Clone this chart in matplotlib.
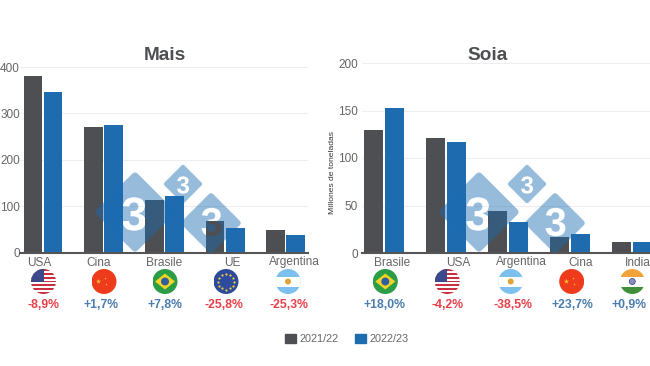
import numpy as np
import matplotlib
matplotlib.use("Agg")
import matplotlib.pyplot as plt
from matplotlib.font_manager import FontProperties
from matplotlib.patches import Circle, PathPatch, Patch, Polygon, Rectangle
from matplotlib.path import Path
from matplotlib.textpath import TextPath

plt.rcParams["font.family"] = ["Liberation Sans", "DejaVu Sans"]

# Datos (millones de toneladas)
paises_mais = ["USA", "Cina", "Brasile", "UE", "Argentina"]
mais_2122 = [380, 271, 114, 69, 48]
mais_2223 = [347, 276, 122, 52, 38]
var_mais = ["-8,9%", "+1,7%", "+7,8%", "-25,8%", "-25,3%"]

paises_soia = ["Brasile", "USA", "Argentina", "Cina", "India"]
soia_2122 = [129.5, 121, 44, 16.5, 12]
soia_2223 = [152.5, 116.5, 33, 20, 12]
var_soia = ["+18,0%", "-4,2%", "-38,5%", "+23,7%", "+0,9%"]

temporadas = ["2021/22", "2022/23"]

OSCURO = "#4d4f53"
AZUL = "#1f6bb0"
GRIS = "#666666"
ROJO = "#e8404a"
AZUL_TXT = "#4a7db0"
W, H = 650, 366


def caja(x0, x1, y0, y1):
    # Convierte pixeles de la imagen a coordenadas de figura
    return [x0 / W, 1 - y0 / H, (x1 - x0) / W, (y0 - y1) / H]


def graficar(rect, paso, centro, a, b, ymax, yticks, pad):
    ax = fig.add_axes(caja(*rect), zorder=1)
    ax.patch.set_alpha(0)
    pos = np.arange(len(a))
    ax.bar(pos - 0.165, a, 0.31, color=OSCURO, zorder=2)
    ax.bar(pos + 0.165, b, 0.31, color=AZUL, zorder=2)
    ax.set_xlim((rect[0] - centro) / paso, (rect[1] - centro) / paso)
    ax.set_ylim(0, ymax)
    ax.set_yticks(yticks)
    ax.set_xticks([])
    ax.tick_params(axis="y", length=0, pad=pad, labelsize=8.5, labelcolor=GRIS)
    ax.grid(axis="y", color="#eeeeee", lw=0.8, zorder=0)
    for s in ["top", "left", "right"]:
        ax.spines[s].set_visible(False)
    ax.spines["bottom"].set_color("#555555")
    ax.spines["bottom"].set_linewidth(1.5)
    return ax


def rombo(cx, cy, r, alto_3, tx, ty):
    # Rombo del logo con el 3 recortado, asi las barras se ven a traves del 3
    c = r * 0.1
    esquinas = [(cx + r, cy), (cx, cy + r), (cx - r, cy), (cx, cy - r)]
    verts, codes = [], []
    for i in range(4):
        p = np.array(esquinas[i])
        ant = np.array(esquinas[i - 1])
        sig = np.array(esquinas[(i + 1) % 4])
        ini = p + (ant - p) / np.linalg.norm(ant - p) * c
        fin = p + (sig - p) / np.linalg.norm(sig - p) * c
        verts += [ini, p, fin]
        codes += [Path.LINETO, Path.CURVE3, Path.CURVE3]
    codes[0] = Path.MOVETO
    verts.append(verts[0])
    codes.append(Path.CLOSEPOLY)
    borde = Path(verts, codes)
    fp = FontProperties(family="Liberation Sans", weight="bold")
    tp = TextPath((0, 0), "3", size=alto_3 / 0.7, prop=fp)
    e = tp.get_extents()
    tp = Path(tp.vertices + [tx - (e.x0 + e.x1) / 2, ty - (e.y0 + e.y1) / 2], tp.codes)
    capa.add_patch(PathPatch(Path.make_compound_path(borde, tp), fc="#1a6ab0", ec="none", alpha=0.45, zorder=3))


def logo(dx):
    rombo(135 + dx, H - 212, 41, 33, 134 + dx, H - 214)
    rombo(183 + dx, H - 184, 20, 17, 183 + dx, H - 185)
    rombo(211 + dx, H - 223, 31, 28, 211.5 + dx, H - 222)


def bandera(nombre, x, py):
    y = H - py
    r = 12.5
    circulo = Circle((x, y), r, transform=capa.transData)

    def add(p):
        p.set_clip_path(circulo)
        p.set_zorder(5)
        capa.add_patch(p)

    def franja(y0, alto, color):
        add(Rectangle((x - r, y0), 2 * r, alto, fc=color, ec="none"))

    if nombre == "USA":
        franja(y - r, 2 * r, "white")
        for i in range(0, 13, 2):
            franja(y - r + i * 2 * r / 13, 2 * r / 13, "#c8303f")
        add(Rectangle((x - r, y), r, r, fc="#3c4a8c", ec="none"))
    elif nombre == "Cina":
        franja(y - r, 2 * r, "#ee3b1c")
        capa.scatter([x - 6], [y + 1], s=14, marker="*", c="#f7c82e", linewidths=0, zorder=6)
        capa.scatter([x + 1, x + 2], [y + 4, y - 2], s=3, marker="*", c="#f7c82e", linewidths=0, zorder=6)
    elif nombre == "Brasile":
        franja(y - r, 2 * r, "#2a9d46")
        add(Polygon([(x - 10, y), (x, y + 8), (x + 10, y), (x, y - 8)], fc="#f4d324", ec="none"))
        add(Circle((x, y), 4, fc="#2f5f9e", ec="none"))
    elif nombre == "UE":
        franja(y - r, 2 * r, "#2d4a9c")
        ang = np.arange(12) * np.pi / 6
        capa.scatter(x + 8 * np.cos(ang), y + 8 * np.sin(ang), s=2.5, c="#f2d33a", linewidths=0, zorder=6)
    elif nombre == "Argentina":
        franja(y - r, 2 * r, "#7cc1ee")
        franja(y - r / 2.5, 2 * r / 2.5, "white")
        add(Circle((x, y), 3, fc="#e0a33a", ec="none"))
    elif nombre == "India":
        franja(y - r, 2 * r, "white")
        franja(y + r / 2.5, r, "#f2a33a")
        franja(y - r - r / 2.5 + 0.0, r, "#3f8f3a")
        add(Circle((x, y), 3, fc="#8a8fc0", ec="#2c3a80", lw=0.5))


fig = plt.figure(figsize=(6.5, 3.66), dpi=100)

ax1 = graficar((20, 308, 252.5, 67), 60.7, 43, mais_2122, mais_2223, 400, [0, 100, 200, 300, 400], 0)
ax2 = graficar((362, 650, 253, 63), 62, 384, soia_2122, soia_2223, 200, [0, 50, 100, 150, 200], 3)

# Capa en pixeles para logo, banderas y textos
capa = fig.add_axes([0, 0, 1, 1], zorder=2)
capa.set_xlim(0, W)
capa.set_ylim(0, H)
capa.axis("off")
logo(0)
logo(344)

x_nombres = [[39, 98.7, 164, 232, 294], [392, 458, 521, 581, 638]]
x_banderas = [[43.5, 104, 165, 226, 288], [385.3, 447.3, 510.7, 571.7, 632.3]]
x_var = [[43, 101, 165, 224, 289], [384, 448, 513, 572, 629]]

for k, (paises, variacion) in enumerate([(paises_mais, var_mais), (paises_soia, var_soia)]):
    for i in range(5):
        # baseline para que "Argentina" no baje por la g
        capa.text(x_nombres[k][i], H - 265.5, paises[i], ha="center", va="baseline", fontsize=8.6, color=GRIS)
        bandera(paises[i], x_banderas[k][i], 281.5)
        col = ROJO if variacion[i].startswith("-") else AZUL_TXT
        capa.text(x_var[k][i], H - 305, variacion[i], ha="center", va="center", fontsize=8.8,
                  fontweight="bold", color=col)

capa.text(165, H - 56, "Mais", ha="center", va="center", fontsize=13.7, fontweight="bold", color=OSCURO)
capa.text(488, H - 56, "Soia", ha="center", va="center", fontsize=13.7, fontweight="bold", color=OSCURO)
capa.text(332.7, H - 173, "Millones de toneladas", rotation=90, ha="center", va="center",
          fontsize=6.1, color="#333333")

fig.legend(handles=[Patch(color=OSCURO, label=temporadas[0]), Patch(color=AZUL, label=temporadas[1])],
           loc="center", bbox_to_anchor=(347 / W, 1 - 339 / H), ncol=2, frameon=False,
           fontsize=7.8, labelcolor=GRIS, handlelength=1, handleheight=1,
           handletextpad=0.35, columnspacing=1.5)

fig.savefig("out.png", dpi=100)
